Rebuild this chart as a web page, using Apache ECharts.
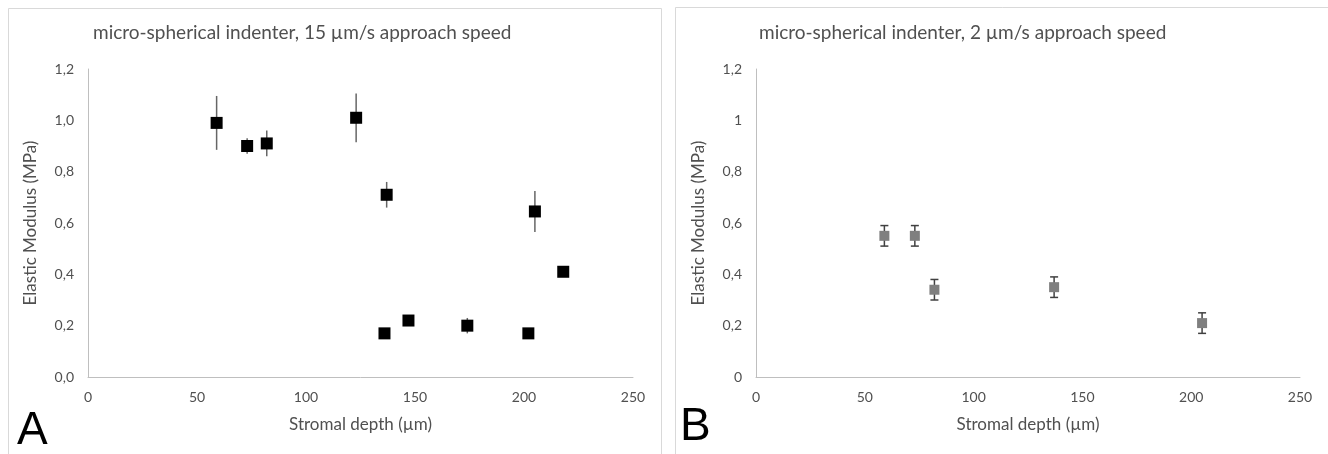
<!DOCTYPE html>
<html>
<head>
<meta charset="utf-8">
<script src="https://cdn.jsdelivr.net/npm/echarts@6/dist/echarts.min.js"></script>
<style>
  html, body { margin: 0; padding: 0; background: #fff; }
  #chart { width: 1328px; height: 454px; }
</style>
</head>
<body>
<div id="chart"></div>
<script>
// panel A: 15 µm/s
const depthA = [59, 73, 82, 123, 137, 205, 218, 136, 147, 174, 202];
const modA   = [0.99, 0.90, 0.91, 1.01, 0.71, 0.645, 0.41, 0.17, 0.22, 0.20, 0.17];
const errA   = [0.105, 0.03, 0.05, 0.095, 0.05, 0.08, 0, 0, 0, 0.03, 0];
// panel B: 2 µm/s
const depthB = [59, 73, 82, 137, 205];
const modB   = [0.55, 0.55, 0.34, 0.35, 0.21];
const errB   = [0.04, 0.04, 0.04, 0.04, 0.04];

const titles = ['micro-spherical indenter, 15 \u00b5m/s approach speed',
                'micro-spherical indenter, 2 \u00b5m/s approach speed'];
const xName = 'Stromal depth (\u00b5m)';
const yName = 'Elastic Modulus (MPa)';

const font = 'Lato';
const grey = '#505050';

const chart = echarts.init(document.getElementById('chart'));

function errData(xs, ys, es) {
  return xs.map((x, i) => [x, ys[i] - es[i], ys[i] + es[i]]).filter((d, i) => es[i] > 0);
}

function errSeries(idx, data, color, cap) {
  return {
    type: 'custom',
    xAxisIndex: idx, yAxisIndex: idx,
    data: data,
    z: 1,
    renderItem: function (params, api) {
      const lo = api.coord([api.value(0), api.value(1)]);
      const hi = api.coord([api.value(0), api.value(2)]);
      const st = { stroke: color, lineWidth: 1.5 };
      const kids = [{ type: 'line', shape: { x1: lo[0], y1: lo[1], x2: hi[0], y2: hi[1] }, style: st }];
      if (cap) {
        kids.push({ type: 'line', shape: { x1: lo[0] - cap, y1: lo[1], x2: lo[0] + cap, y2: lo[1] }, style: st });
        kids.push({ type: 'line', shape: { x1: hi[0] - cap, y1: hi[1], x2: hi[0] + cap, y2: hi[1] }, style: st });
      }
      return { type: 'group', children: kids };
    }
  };
}

function xAxis(idx) {
  return {
    gridIndex: idx, type: 'value', min: 0, max: 250, interval: 50,
    name: xName, nameLocation: 'middle', nameGap: 39,
    nameTextStyle: { color: grey, fontFamily: font, fontSize: 17 },
    axisLine: { lineStyle: { color: '#bfbfbf', width: 1 } },
    axisTick: { show: false },
    axisLabel: { color: grey, fontFamily: font, fontSize: 14, margin: 13 },
    splitLine: { show: false }
  };
}

function yAxis(idx, fmt) {
  return {
    gridIndex: idx, type: 'value', min: 0, max: 1.2, interval: 0.2,
    name: yName, nameLocation: 'middle', nameGap: 49,
    nameTextStyle: { color: grey, fontFamily: font, fontSize: 17 },
    axisLine: { show: true, lineStyle: { color: '#bfbfbf', width: 1 } },
    axisTick: { show: false },
    axisLabel: { color: grey, fontFamily: font, fontSize: 14, margin: 14, formatter: fmt },
    splitLine: { show: false }
  };
}

const option = {
  animation: false,
  backgroundColor: '#fff',
  title: [
    { text: titles[0], left: 93, top: 23, padding: 0,
      textStyle: { color: grey, fontFamily: font, fontSize: 19, fontWeight: 'normal' } },
    { text: titles[1], left: 759, top: 23, padding: 0,
      textStyle: { color: grey, fontFamily: font, fontSize: 19, fontWeight: 'normal' } }
  ],
  grid: [
    { left: 88, top: 69, width: 545, height: 308 },
    { left: 756, top: 69, width: 544, height: 308 }
  ],
  xAxis: [xAxis(0), xAxis(1)],
  yAxis: [
    yAxis(0, v => v.toFixed(1).replace('.', ',')),
    yAxis(1, v => String(parseFloat(v.toFixed(1))).replace('.', ','))
  ],
  graphic: [
    { type: 'rect', shape: { x: 8.5, y: 8.5, width: 653, height: 460 },
      style: { fill: 'none', stroke: '#d9d9d9', lineWidth: 1 }, silent: true },
    { type: 'rect', shape: { x: 675.5, y: 7.5, width: 660, height: 460 },
      style: { fill: 'none', stroke: '#d9d9d9', lineWidth: 1 }, silent: true },
    { type: 'text', left: 17, top: 408,
      style: { text: 'A', fill: '#000', font: '46px "Liberation Sans", Arial, sans-serif' } },
    { type: 'text', left: 680, top: 404,
      style: { text: 'B', fill: '#000', font: '46px "Liberation Sans", Arial, sans-serif' } }
  ],
  series: [
    errSeries(0, errData(depthA, modA, errA), '#666666', 0),
    {
      type: 'scatter', xAxisIndex: 0, yAxisIndex: 0, z: 2,
      symbol: 'rect', symbolSize: 12,
      itemStyle: { color: '#000000', opacity: 1 },
      data: depthA.map((x, i) => [x, modA[i]])
    },
    errSeries(1, errData(depthB, modB, errB), '#404040', 4),
    {
      type: 'scatter', xAxisIndex: 1, yAxisIndex: 1, z: 2,
      symbol: 'rect', symbolSize: 10,
      itemStyle: { color: '#7f7f7f', opacity: 1 },
      data: depthB.map((x, i) => [x, modB[i]])
    }
  ]
};

chart.setOption(option);
</script>
</body>
</html>
